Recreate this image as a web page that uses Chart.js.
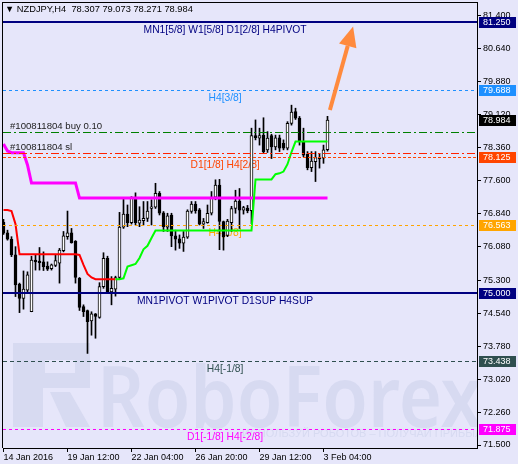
<!DOCTYPE html>
<html>
<head>
<meta charset="utf-8">
<title>NZDJPY H4</title>
<script src="https://cdn.jsdelivr.net/npm/chart.js@4.4.1/dist/chart.umd.min.js"></script>
<style>
  html, body { margin: 0; padding: 0; background: #e6e6fa; }
  canvas { display: block; }
</style>
</head>
<body>
<canvas id="mtChart" width="518" height="464"></canvas>
<script>
// ---- values ----
const chartTitle = 'NZDJPY,H4  78.307 79.073 78.271 78.984';

const opens = [
  76.63, 76.39, 76.24, 75.88, 75.21, 74.88, 75.07, 74.57, 75.76, 75.74,
  75.72, 75.62, 75.56, 75.64, 75.69, 75.98, 76.30, 76.39, 76.19, 75.34,
  74.69, 74.60, 74.36, 74.52, 74.44, 75.15, 75.80, 75.03, 75.09, 75.36,
  76.52, 76.82, 76.62, 77.21, 76.61, 76.67, 76.72, 76.95, 76.98, 77.30,
  76.85, 76.52, 76.80, 76.32, 76.25, 76.15, 76.29, 76.88, 77.05, 76.92,
  76.59, 76.62, 76.84, 77.21, 77.49, 76.65, 76.33, 76.62, 76.95, 77.12,
  76.91, 76.96, 76.90, 78.63, 78.57, 78.64, 78.30, 78.63, 78.37, 78.58,
  78.45, 78.34, 78.91, 79.18, 79.03, 78.49, 78.20, 77.89, 78.03, 78.12,
  78.11, 78.307
];
const highs = [
  76.70, 76.45, 76.30, 76.07, 75.23, 75.51, 75.49, 75.85, 75.88, 76.05,
  75.95, 75.72, 75.67, 75.88, 76.03, 76.42, 76.89, 76.49, 76.21, 75.36,
  74.73, 74.61, 74.57, 74.53, 75.24, 75.93, 75.85, 75.38, 75.39, 76.86,
  77.18, 77.03, 77.22, 77.31, 76.99, 77.11, 77.11, 77.15, 77.53, 77.34,
  76.88, 76.84, 76.84, 76.45, 76.34, 76.42, 76.92, 77.11, 77.11, 76.95,
  76.72, 77.03, 77.34, 77.61, 77.62, 76.66, 76.70, 77.00, 77.37, 77.41,
  77.00, 77.02, 78.80, 78.99, 78.80, 79.04, 78.72, 78.66, 78.64, 78.64,
  78.53, 78.95, 79.33, 79.26, 79.07, 78.80, 78.26, 78.26, 78.26, 78.22,
  78.41, 79.073
];
const lows = [
  76.35, 76.22, 75.84, 74.92, 74.55, 74.63, 75.03, 74.57, 75.53, 75.53,
  75.52, 75.52, 75.53, 75.61, 75.23, 75.95, 76.24, 76.15, 75.23, 74.60,
  74.46, 73.61, 74.03, 73.96, 74.42, 75.11, 74.99, 74.73, 74.93, 75.33,
  76.49, 76.53, 76.59, 76.57, 76.53, 76.57, 76.65, 76.57, 76.95, 76.80,
  76.42, 76.42, 76.07, 75.99, 76.03, 75.96, 76.26, 76.84, 76.84, 76.57,
  76.49, 76.61, 76.80, 77.15, 76.00, 75.99, 76.30, 76.42, 76.84, 76.49,
  76.82, 76.85, 76.60, 78.53, 78.41, 78.22, 78.24, 78.10, 78.30, 78.26,
  78.30, 78.30, 78.87, 79.00, 78.41, 78.14, 77.84, 77.80, 77.57, 77.88,
  77.99, 78.271
];
const closes = [
  76.38, 76.24, 75.88, 75.19, 74.88, 75.09, 75.42, 75.76, 75.72, 75.70,
  75.61, 75.55, 75.65, 75.75, 75.99, 76.32, 76.39, 76.16, 75.36, 74.67,
  74.57, 74.34, 74.52, 74.46, 75.15, 75.80, 75.03, 75.11, 75.36, 76.52,
  76.82, 76.62, 77.21, 76.62, 76.68, 76.72, 76.89, 76.99, 77.30, 76.84,
  76.53, 76.78, 76.32, 76.24, 76.15, 76.29, 76.89, 77.05, 76.90, 76.59,
  76.65, 76.84, 77.21, 77.49, 76.65, 76.30, 76.66, 76.95, 77.12, 76.91,
  76.97, 76.90, 78.63, 78.58, 78.63, 78.26, 78.57, 78.37, 78.58, 78.34,
  78.34, 78.91, 79.17, 79.03, 78.49, 78.18, 77.89, 78.04, 78.12, 78.09,
  78.30, 78.984
];

// trailing indicator lines (one value per bar, null where the line is absent)
const trendDown = [
  76.915, 76.915, 76.89, 76.59, 75.894, 75.894, 75.894, 75.894, 75.894, 75.894,
  75.894, 75.894, 75.894, 75.894, 75.894, 75.894, 75.894, 75.894, 75.894, 75.88,
  75.65, 75.44, 75.36, 75.32, 75.32, 75.32, 75.32, 75.32, 75.32, null,
  null, null, null, null, null, null, null, null, null, null,
  null, null, null, null, null, null, null, null, null, null,
  null, null, null, null, null, null, null, null, null, null,
  null, null, null, null, null, null, null, null, null, null,
  null, null, null, null, null, null, null, null, null, null,
  null, null
];
const trendUp = [
  null, null, null, null, null, null, null, null, null, null,
  null, null, null, null, null, null, null, null, null, null,
  null, null, null, null, null, null, null, null, 75.32, 75.32,
  75.34, 75.61, 75.64, 75.67, 75.81, 76.01, 76.09, 76.27, 76.44, 76.44,
  76.44, 76.44, 76.44, 76.44, 76.44, 76.44, 76.44, 76.44, 76.44, 76.44,
  76.44, 76.44, 76.44, 76.44, 76.44, 76.44, 76.44, 76.44, 76.44, 76.44,
  76.44, 76.44, 76.44, 77.62, 77.62, 77.62, 77.62, 77.62, 77.74, 77.76,
  77.80, 77.97, 78.25, 78.49, 78.49, 78.49, 78.49, 78.49, 78.49, 78.49,
  78.49, 78.49
];
const trendSlow = [
  78.435, 78.274, 78.235, 78.235, 78.235, 78.235, 77.951, 77.537, 77.537, 77.537,
  77.537, 77.537, 77.537, 77.537, 77.537, 77.537, 77.537, 77.537, 77.537, 77.19,
  77.19, 77.19, 77.19, 77.19, 77.19, 77.19, 77.19, 77.19, 77.19, 77.19,
  77.19, 77.19, 77.19, 77.19, 77.19, 77.19, 77.19, 77.19, 77.19, 77.19,
  77.19, 77.19, 77.19, 77.19, 77.19, 77.19, 77.19, 77.19, 77.19, 77.19,
  77.19, 77.19, 77.19, 77.19, 77.19, 77.19, 77.19, 77.19, 77.19, 77.19,
  77.19, 77.19, 77.19, 77.19, 77.19, 77.19, 77.19, 77.19, 77.19, 77.19,
  77.19, 77.19, 77.19, 77.19, 77.19, 77.19, 77.19, 77.19, 77.19, 77.19,
  77.19, 77.19
];

const priceTicks = [81.4, 80.64, 79.88, 79.12, 78.36, 77.6, 76.84, 76.08, 75.3, 74.54, 73.78, 73.02, 72.26, 71.5];
const timeTickBars = [0, 16, 32, 48, 64, 80];
const timeTickLabels = ['14 Jan 2016', '19 Jan 12:00', '22 Jan 04:00', '26 Jan 20:00', '29 Jan 12:00', '3 Feb 04:00'];

const levelPrices = [81.25, 79.688, 78.125, 76.563, 75.0, 73.438, 71.875];
const levelNames = ['MN1[5/8] W1[5/8] D1[2/8] H4PIVOT', 'H4[3/8]', 'D1[1/8] H4[2/8]', 'H4[1/8]',
  'MN1PIVOT W1PIVOT D1SUP H4SUP', 'H4[-1/8]', 'D1[-1/8] H4[-2/8]'];
const orderPrices = [78.71, 78.22];
const orderNames = ['#100811804 buy 0.10', '#100811804 sl'];
const lastPrice = 78.984;
// hand drawn arrow: [bar, price] for tail and tip
const arrowTail = [81.6, 79.22];
const arrowTip = [87.4, 81.14];

// ---- styles ----
const bgColor = '#e6e6fa';
const levelColors = ['#000080', '#1e90ff', '#ff4500', '#ffa500', '#000080', '#2f4f4f', '#ff00ff'];
const levelDashes = [[], [3, 3], [3, 2], [3, 3], [], [4, 3], [3, 3]];
const levelWidths = [2, 1, 1, 1, 2, 1, 1];
const orderColors = ['#008000', '#ff2200'];
const levelTextBar = 55.4;
const wmColor = '#d7daf1';
const FONT = '"Liberation Sans", Arial, sans-serif';

const wickData = opens.map((o, i) => ({ x: i, y: [lows[i], highs[i]] }));
const bodyData = opens.map((o, i) => ({ x: i, y: [o, closes[i]] }));
const bodyColors = opens.map((o, i) => closes[i] >= o ? '#ffffff' : '#000000');
const asPoints = arr => arr.map((v, i) => ({ x: i, y: v }));

const overlay = {
  id: 'overlay',
  beforeDraw(chart) {
    const ctx = chart.ctx;
    ctx.save();
    ctx.fillStyle = bgColor;
    ctx.fillRect(0, 0, chart.width, chart.height);
    ctx.restore();
  },
  beforeDatasetsDraw(chart) {
    const { ctx, chartArea: a, scales: { x, y } } = chart;
    ctx.save();
    ctx.beginPath();
    ctx.rect(a.left, a.top, a.right - a.left, a.bottom - a.top);
    ctx.clip();

    // watermark
    ctx.fillStyle = wmColor;
    ctx.beginPath();
    ctx.rect(13, 343, 77, 45);
    ctx.rect(45, 360, 30, 13);
    ctx.fill('evenodd');
    ctx.fillRect(13, 388, 30, 39);
    ctx.beginPath();
    ctx.moveTo(50, 392); ctx.lineTo(70, 392); ctx.lineTo(90, 427); ctx.lineTo(66, 427);
    ctx.closePath(); ctx.fill();
    ctx.font = '600 84px "Noto Sans", sans-serif';
    const w = ctx.measureText('RoboForex').width;
    ctx.save();
    ctx.translate(97, 427);
    ctx.scale(385 / w, 1);
    ctx.textBaseline = 'alphabetic';
    ctx.fillText('RoboForex', 0, 0);
    ctx.restore();
    ctx.font = '11px ' + FONT;
    ctx.fillText('ИСПОЛЬЗУЙ РОБОТОВ – ПОЛУЧАЙ ПРИБЫЛЬ', 242, 437);

    // level names
    ctx.font = '10.3px ' + FONT;
    ctx.textAlign = 'center';
    ctx.textBaseline = 'middle';
    const tx = x.getPixelForValue(levelTextBar);
    levelPrices.forEach((p, i) => {
      ctx.fillStyle = levelColors[i];
      ctx.fillText(levelNames[i], tx, Math.round(y.getPixelForValue(p)) + 8);
    });
    ctx.textAlign = 'left';
    ctx.fillStyle = '#222';
    ctx.font = '9.6px ' + FONT;
    orderPrices.forEach((p, i) => {
      ctx.fillText(orderNames[i], a.left + 7, Math.round(y.getPixelForValue(p)) - 6);
    });
    ctx.restore();
  },
  afterDatasetsDraw(chart) {
    const { ctx, chartArea: a, scales: { y } } = chart;
    ctx.save();
    const hline = (p, color, width, dash) => {
      const py = Math.round(y.getPixelForValue(p));
      const yy = width % 2 ? py + 0.5 : py;
      ctx.strokeStyle = color;
      ctx.lineWidth = width;
      ctx.setLineDash(dash);
      ctx.beginPath();
      ctx.moveTo(a.left, yy);
      ctx.lineTo(a.right, yy);
      ctx.stroke();
    };
    levelPrices.forEach((p, i) => hline(p, levelColors[i], levelWidths[i], levelDashes[i]));
    orderPrices.forEach((p, i) => hline(p, orderColors[i], 1, [8, 3, 2, 3]));
    ctx.restore();
  },
  afterDraw(chart) {
    const { ctx, chartArea: a, scales: { x, y } } = chart;
    ctx.save();
    // frame, left and top sides (right and bottom come from the axes)
    ctx.strokeStyle = '#000';
    ctx.lineWidth = 1;
    ctx.beginPath();
    ctx.moveTo(2.5, 2); ctx.lineTo(2.5, a.bottom);
    ctx.moveTo(2, 2.5); ctx.lineTo(a.right, 2.5);
    ctx.stroke();

    // arrow
    const x0 = x.getPixelForValue(arrowTail[0]), y0 = y.getPixelForValue(arrowTail[1]);
    const x1 = x.getPixelForValue(arrowTip[0]), y1 = y.getPixelForValue(arrowTip[1]);
    const len = Math.hypot(x1 - x0, y1 - y0);
    const ux = (x1 - x0) / len, uy = (y1 - y0) / len;
    const hl = 20, hw = 9;
    ctx.strokeStyle = '#ff8a3d';
    ctx.fillStyle = '#ff8a3d';
    ctx.lineWidth = 4;
    ctx.beginPath();
    ctx.moveTo(x0, y0);
    ctx.lineTo(x1 - ux * hl, y1 - uy * hl);
    ctx.stroke();
    ctx.beginPath();
    ctx.moveTo(x1, y1);
    ctx.lineTo(x1 - ux * hl - uy * hw, y1 - uy * hl + ux * hw);
    ctx.lineTo(x1 - ux * hl + uy * hw, y1 - uy * hl - ux * hw);
    ctx.closePath();
    ctx.fill();

    // price boxes on the axis
    ctx.font = '9px ' + FONT;
    ctx.textBaseline = 'middle';
    ctx.textAlign = 'left';
    const box = (p, color) => {
      const py = Math.round(y.getPixelForValue(p));
      ctx.fillStyle = color;
      ctx.fillRect(a.right + 2, py - 5, 37, 11);
      ctx.fillStyle = '#fff';
      ctx.fillText(p.toFixed(3), a.right + 6, py + 0.5);
    };
    levelPrices.forEach((p, i) => box(p, levelColors[i]));
    box(lastPrice, '#000');

    // title
    ctx.fillStyle = '#000';
    ctx.font = '9.3px ' + FONT;
    ctx.fillText('\u25BC ' + chartTitle, 5, 9.5);
    ctx.restore();
  }
};

new Chart(document.getElementById('mtChart'), {
  type: 'bar',
  data: {
    datasets: [
      { type: 'bar', data: wickData, backgroundColor: '#000', borderWidth: 0,
        barThickness: 1, grouped: false, order: 5 },
      { type: 'bar', data: bodyData, backgroundColor: bodyColors, borderColor: '#000',
        borderWidth: 1, borderSkipped: false, barThickness: 3, minBarLength: 1,
        grouped: false, order: 4 },
      { type: 'line', data: asPoints(trendSlow), borderColor: '#ff00ff', borderWidth: 3,
        pointRadius: 0, spanGaps: false, order: 3 },
      { type: 'line', data: asPoints(trendDown), borderColor: '#ff0000', borderWidth: 2,
        pointRadius: 0, spanGaps: false, order: 2 },
      { type: 'line', data: asPoints(trendUp), borderColor: '#00ff00', borderWidth: 2,
        pointRadius: 0, spanGaps: false, order: 1 }
    ]
  },
  options: {
    responsive: false,
    devicePixelRatio: 1,
    animation: false,
    events: [],
    layout: { padding: { left: 3, top: 2, right: 0, bottom: 0 } },
    plugins: { legend: { display: false }, tooltip: { enabled: false } },
    scales: {
      x: {
        type: 'linear',
        position: 'bottom',
        min: -0.125,
        max: 118.375,
        offset: false,
        afterBuildTicks: s => { s.ticks = timeTickBars.map(v => ({ value: v })); },
        afterFit: s => { s.height = 16; s.paddingLeft = 0; s.paddingRight = 0; },
        grid: { drawOnChartArea: false, drawTicks: true, tickLength: 4, color: '#000', offset: false },
        border: { display: true, color: '#000' },
        ticks: {
          autoSkip: false, maxRotation: 0, align: 'start', padding: 0, color: '#000',
          font: { family: FONT, size: 9 },
          callback: v => timeTickLabels[timeTickBars.indexOf(v)]
        }
      },
      y: {
        type: 'linear',
        position: 'right',
        min: 71.431,
        max: 81.707,
        afterBuildTicks: s => { s.ticks = priceTicks.map(v => ({ value: v })); },
        afterFit: s => { s.width = 41; s.paddingTop = 0; s.paddingBottom = 0; },
        grid: { drawOnChartArea: false, drawTicks: true, tickLength: 4, color: '#000' },
        border: { display: true, color: '#000' },
        ticks: {
          autoSkip: false, padding: 2, color: '#000',
          font: { family: FONT, size: 9 },
          callback: v => v.toFixed(3)
        }
      }
    }
  },
  plugins: [overlay]
});
</script>
</body>
</html>
